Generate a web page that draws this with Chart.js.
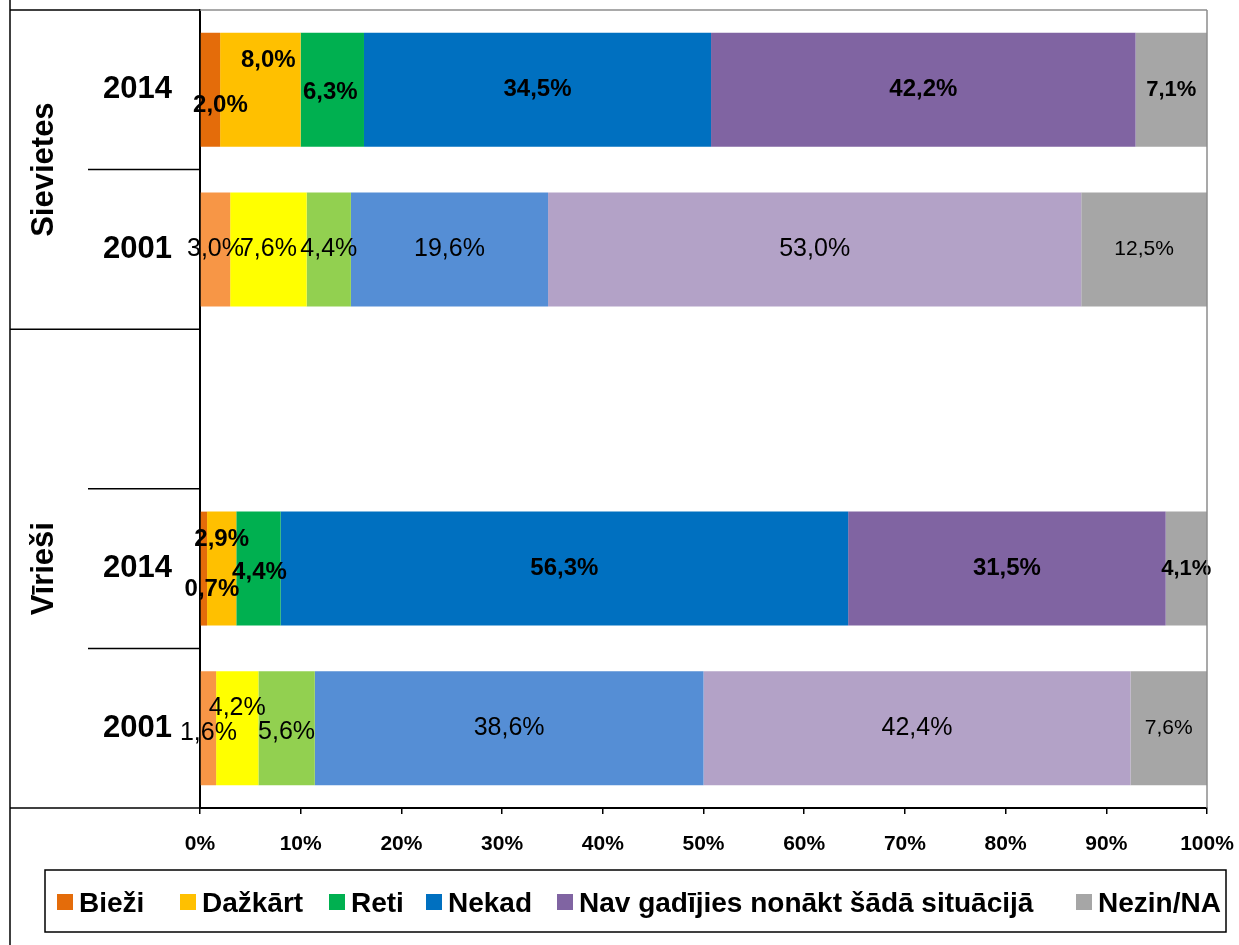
<!DOCTYPE html>
<html><head><meta charset="utf-8">
<script src="https://cdn.jsdelivr.net/npm/chart.js@4.4.1/dist/chart.umd.min.js"></script>
<style>html,body{margin:0;padding:0;background:#fff}#wrap{width:1239px;height:945px;position:relative}</style>
</head><body><div id="wrap"><canvas id="c" width="1239" height="945"></canvas></div>
<script>
// ---- data ----
const categories = ['2014', '2001', '', '2014', '2001'];
const groupNames = ['Sievietes', 'Vīrieši'];
const groupSpans = [[0, 1], [2, 4]];
const seriesNames = ['Bieži', 'Dažkārt', 'Reti', 'Nekad', 'Nav gadījies nonākt šādā situācijā', 'Nezin/NA'];
const biezi   = [2.0, 3.0, null, 0.7, 1.6];
const dazkart = [8.0, 7.6, null, 2.9, 4.2];
const reti    = [6.3, 4.4, null, 4.4, 5.6];
const nekad   = [34.5, 19.6, null, 56.3, 38.6];
const nav     = [42.2, 53.0, null, 31.5, 42.4];
const nezin   = [7.1, 12.5, null, 4.1, 7.6];
const xTickValues = [0, 10, 20, 30, 40, 50, 60, 70, 80, 90, 100];

// ---- styles ----
const colors2014 = ['#E46C0A', '#FFC000', '#00B050', '#0070C0', '#8064A2', '#A6A6A6'];
const colors2001 = ['#F79646', '#FFFF00', '#92D050', '#558ED5', '#B3A2C7', '#A6A6A6'];
const FONT = '"Liberation Sans", Arial, sans-serif';
const legendBoxX = [57, 180, 329, 426, 557, 1076];
const labelShift = {
  '0-0': [10, 16], '1-0': [8, -29], '2-0': [-2, 3],
  '0-3': [8, 21], '1-3': [0, -29], '2-3': [1, 4],
  '0-4': [0, 5], '1-4': [0, -20], '2-4': [0, 4]
};

const seriesValues = [biezi, dazkart, reti, nekad, nav, nezin];
const totals = categories.map((c, j) => seriesValues.reduce((s, arr) => s + (arr[j] || 0), 0));

const datasets = seriesValues.map((vals, i) => ({
  label: seriesNames[i],
  data: vals.map((v, j) => v == null ? null : v / totals[j] * 100),
  rawValues: vals,
  backgroundColor: categories.map(c => c === '2001' ? colors2001[i] : colors2014[i]),
  borderWidth: 0,
  barPercentage: 0.714,
  categoryPercentage: 1.0
}));

const labelsPlugin = {
  id: 'barLabels',
  afterDatasetsDraw(chart) {
    const ctx = chart.ctx;
    ctx.save();
    ctx.textAlign = 'center';
    ctx.textBaseline = 'middle';
    ctx.fillStyle = '#000';
    chart.data.datasets.forEach((ds, i) => {
      const meta = chart.getDatasetMeta(i);
      meta.data.forEach((bar, j) => {
        const v = ds.rawValues[j];
        if (v == null) return;
        const is2014 = categories[j] === '2014';
        const small = i === 5;
        const size = small ? (is2014 ? 22 : 21) : (is2014 ? 24 : 25);
        ctx.font = (is2014 ? 'bold ' : '') + size + 'px ' + FONT;
        const sh = labelShift[i + '-' + j] || [0, 0];
        const cx = (bar.x + bar.base) / 2 + sh[0];
        const cy = bar.y + sh[1];
        ctx.fillText(v.toFixed(1).replace('.', ',') + '%', cx, cy);
      });
    });
    ctx.restore();
  }
};

const framePlugin = {
  id: 'frame',
  afterDraw(chart) {
    const {ctx, chartArea: ca, scales: {y}} = chart;
    const step = y.getPixelForValue(1) - y.getPixelForValue(0);
    const b = k => y.getPixelForValue(k) - step / 2;
    const line = (x0, y0, x1, y1) => { ctx.beginPath(); ctx.moveTo(x0, y0); ctx.lineTo(x1, y1); ctx.stroke(); };
    ctx.save();
    ctx.strokeStyle = '#8c8c8c';
    ctx.lineWidth = 1.5;
    line(ca.left, ca.top, ca.right, ca.top);
    line(ca.right, ca.top, ca.right, ca.bottom);
    ctx.strokeStyle = '#000';
    ctx.lineWidth = 1.5;
    line(10, 0, 10, chart.height);
    [[0, 10], [1, 88], [2, 10], [3, 88], [4, 88], [5, 10]].forEach(([k, x0]) => line(x0, b(k), ca.left, b(k)));
    // group labels
    ctx.fillStyle = '#000';
    ctx.font = 'bold 31px ' + FONT;
    ctx.textAlign = 'center';
    ctx.textBaseline = 'middle';
    groupNames.forEach((g, gi) => {
      const [s, e] = groupSpans[gi];
      const cy = (b(s) + b(e + 1)) / 2;
      ctx.save();
      ctx.translate(44, cy);
      ctx.rotate(-Math.PI / 2);
      ctx.fillText(g, 0, 0);
      ctx.restore();
    });
    // legend
    const lx0 = 45, lx1 = 1226, ly0 = 870, ly1 = 932;
    ctx.lineWidth = 1.5;
    ctx.strokeRect(lx0, ly0, lx1 - lx0, ly1 - ly0);
    ctx.font = 'bold 28px ' + FONT;
    ctx.textAlign = 'left';
    const box = 16, gap = 6;
    const cy = 903;
    seriesNames.forEach((n, i) => {
      const x = legendBoxX[i];
      ctx.fillStyle = colors2014[i];
      ctx.fillRect(x, cy - 9, box, box);
      ctx.fillStyle = '#000';
      ctx.fillText(n, x + box + gap, cy + 1);
    });
    ctx.restore();
  }
};

const noPad = s => { s.paddingTop = 0; s.paddingBottom = 0; s.paddingLeft = 0; s.paddingRight = 0; };

new Chart(document.getElementById('c'), {
  type: 'bar',
  data: { labels: categories, datasets },
  options: {
    indexAxis: 'y',
    responsive: false,
    animation: false,
    layout: { padding: { top: 10, right: 32, bottom: 75, left: 0 } },
    plugins: { legend: { display: false }, tooltip: { enabled: false } },
    scales: {
      x: {
        stacked: true, min: 0, max: 100,
        afterBuildTicks: s => { s.ticks = xTickValues.map(v => ({ value: v })); },
        afterFit: s => { s.height = 62; noPad(s); },
        ticks: { callback: v => v + '%', color: '#000', font: { family: FONT, size: 21, weight: 'bold' }, padding: 18, maxRotation: 0, autoSkip: false },
        grid: { display: true, drawOnChartArea: false, drawTicks: true, tickLength: 6, color: '#000', lineWidth: 1.5 },
        border: { display: true, color: '#000', width: 2 }
      },
      y: {
        stacked: true,
        afterFit: s => { s.width = 200; noPad(s); },
        ticks: { color: '#000', font: { family: FONT, size: 31, weight: 'bold' }, padding: 28 },
        grid: { display: false, drawTicks: false, tickLength: 0 },
        border: { display: true, color: '#000', width: 2 }
      }
    }
  },
  plugins: [labelsPlugin, framePlugin]
});
</script>
</body></html>
